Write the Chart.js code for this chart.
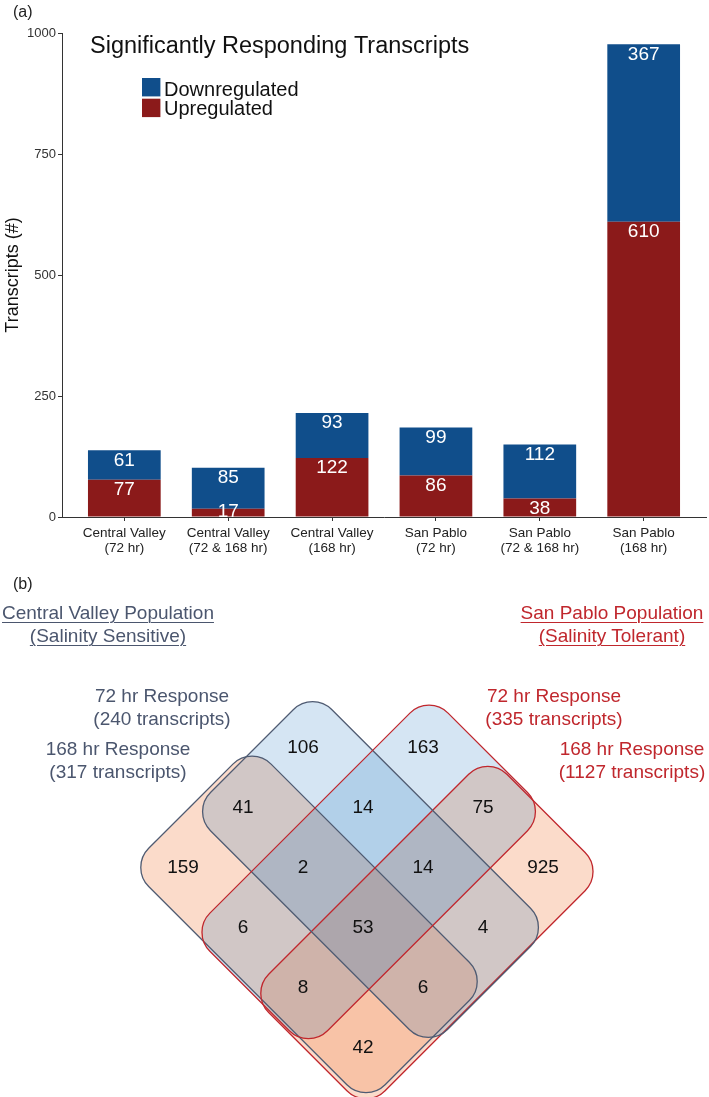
<!DOCTYPE html>
<html>
<head>
<meta charset="utf-8">
<script src="https://cdn.jsdelivr.net/npm/chart.js@4.4.1/dist/chart.umd.min.js"></script>
<style>
body{margin:0;background:#fff;font-family:"Liberation Sans",Arial,sans-serif;}
#wrap{position:relative;width:709px;height:1097px;overflow:hidden;}
#bars{position:absolute;left:0;top:0;}
#venn{position:absolute;left:0;top:560px;}
.t{position:absolute;white-space:nowrap;text-align:center;font-size:19px;line-height:23px;width:300px;}
.panel{position:absolute;left:13px;font-size:16px;line-height:16px;color:#222;}
.cv{color:#4b566e;}
.sp{color:#c0272d;}
.u{text-decoration:underline;text-underline-offset:3px;text-decoration-thickness:1px;}
</style>
</head>
<body>
<div id="wrap">
<canvas id="bars" width="709" height="560"></canvas>
<canvas id="venn" width="709" height="537"></canvas>

<div class="panel" style="top:4px">(a)</div>
<div class="panel" style="top:576px">(b)</div>

<div class="t cv" style="left:-42px;top:601px"><span class="u">Central Valley Population</span><br><span class="u">(Salinity Sensitive)</span></div>
<div class="t sp" style="left:462px;top:601px"><span class="u">San Pablo Population</span><br><span class="u">(Salinity Tolerant)</span></div>

<div class="t cv" style="left:12px;top:684px">72 hr Response<br>(240 transcripts)</div>
<div class="t sp" style="left:404px;top:684px">72 hr Response<br>(335 transcripts)</div>
<div class="t cv" style="left:-32px;top:737px">168 hr Response<br>(317 transcripts)</div>
<div class="t sp" style="left:482px;top:737px">168 hr Response<br>(1127 transcripts)</div>
</div>

<script>
/* DATA */

const categories = [
["Central Valley","(72 hr)"],
["Central Valley","(72 & 168 hr)"],
["Central Valley","(168 hr)"],
["San Pablo","(72 hr)"],
["San Pablo","(72 & 168 hr)"],
["San Pablo","(168 hr)"]
];
const upregulated = [77,17,122,86,38,610];
const downregulated = [61,85,93,99,112,367];
const yTicks = [0,250,500,750,1000];

// A = CV 72 hr, B = CV 168 hr, C = SP 72 hr, D = SP 168 hr
const vennRegions = ["A","C","AB","AC","CD","B","ABC","ACD","D","BC","ABCD","AD","BCD","ABD","BD"];
const vennCounts  = [106,163,41,14,75,159,2,14,925,6,53,4,8,6,42];


/* STYLE / LAYOUT */

const FONT = "'Liberation Sans', Arial, sans-serif";
const blue = "#104E8B", red = "#8B1A1A";

// set extents on the rotated grid (i runs down-right, j runs down-left)
// listed in paint order: the 168 hr sets first, the 72 hr sets over them
const vennShapes = {
B:{i:[-2.45,1.49], j:[-0.6,1.44], fill:"rgba(244,152,102,0.35)", stroke:"#4f5b72"},
D:{i:[-0.4,1.54], j:[-2.48,1.49], fill:"rgba(244,152,102,0.35)", stroke:"#c0272d"},
A:{i:[-2.4,1.55], j:[-1.56,0.46], fill:"rgba(3,100,185,0.17)", stroke:"#4f5b72"},
C:{i:[-1.4,0.56], j:[-2.5,1.47], fill:"rgba(3,100,185,0.17)", stroke:"#c0272d"}
};


/* BAR CHART */

const barLabels = {
id:"barLabels",
afterDatasetsDraw(chart){
const ctx = chart.ctx;
ctx.save();
ctx.fillStyle="#fff";
ctx.font="19px "+FONT;
ctx.textAlign="center";
ctx.textBaseline="alphabetic";
chart.data.datasets.forEach((ds,di)=>{
chart.getDatasetMeta(di).data.forEach((bar,i)=>{
let top = Math.min(bar.y,bar.base);
let bottom = Math.max(bar.y,bar.base);
let y = Math.min(top+15.5,bottom);
ctx.fillText(String(ds.data[i].y),bar.x,y);
});
});
ctx.restore();
}
};

const header = {
id:"header",
afterDraw(chart){
const ctx = chart.ctx;
ctx.save();
ctx.fillStyle="#111";
ctx.textAlign="left";
ctx.textBaseline="alphabetic";
ctx.font="23.5px "+FONT;
ctx.fillText("Significantly Responding Transcripts",90,53);
// legend, top item is the top of the stack
const items = chart.data.datasets.slice().reverse();
ctx.font="20px "+FONT;
items.forEach((ds,k)=>{
ctx.fillStyle=ds.backgroundColor;
ctx.fillRect(142,78+k*20.7,18.4,18.4);
ctx.fillStyle="#111";
ctx.fillText(ds.label,164,95.5+k*19.7);
});
ctx.restore();
}
};

new Chart(document.getElementById("bars"),{
type:"bar",
data:{
datasets:[
{label:"Upregulated",data:upregulated.map((v,i)=>({x:i+1,y:v})),backgroundColor:red,barPercentage:0.7,categoryPercentage:1},
{label:"Downregulated",data:downregulated.map((v,i)=>({x:i+1,y:v})),backgroundColor:blue,barPercentage:0.7,categoryPercentage:1}
]
},
options:{
responsive:false,
animation:false,
layout:{padding:{top:33,right:3,left:0,bottom:0}},
plugins:{legend:{display:false},tooltip:{enabled:false}},
scales:{
x:{
type:"linear",min:0.4,max:6.6,stacked:true,offset:false,
afterBuildTicks:s=>{s.ticks=categories.map((c,i)=>({value:i+1}));},
afterFit:s=>{s.height=43;},
ticks:{callback:v=>categories[v-1],color:"#222",font:{size:13.5,family:FONT,lineHeight:1.12},padding:5,maxRotation:0,autoSkip:false},
grid:{display:true,offset:false,drawOnChartArea:false,drawTicks:true,tickLength:4,color:"#333"},
border:{display:true,color:"#333",width:1}
},
y:{
min:0,max:1000,stacked:true,
afterBuildTicks:s=>{s.ticks=yTicks.map(v=>({value:v}));},
afterFit:s=>{s.width=62;},
ticks:{callback:v=>String(v),color:"#333",font:{size:13,family:FONT},padding:2},
grid:{display:true,drawOnChartArea:false,drawTicks:true,tickLength:4,color:"#333"},
border:{display:true,color:"#333",width:1},
title:{display:true,text:"Transcripts (#)",color:"#111",font:{size:18,family:FONT},padding:{top:2,bottom:0}}
}
}
},
plugins:[barLabels,header]
});


/* VENN DIAGRAM */

function gridIndex(r){
// position on the rotated grid from set membership
let A=r.includes("A"),B=r.includes("B"),C=r.includes("C"),D=r.includes("D");
let j = A&&B?0:A?-1:B?1:-2;
let i = C&&D?0:C?-1:D?1:-2;
return {i,j};
}

function roundedPoly(ctx,pts,r){
const n=pts.length;
const mid=(a,b)=>[(a[0]+b[0])/2,(a[1]+b[1])/2];
const m0=mid(pts[n-1],pts[0]);
ctx.beginPath();
ctx.moveTo(m0[0],m0[1]);
for(let k=0;k<n;k++){
const p=pts[k],q=pts[(k+1)%n],m=mid(p,q);
ctx.arcTo(p[0],p[1],m[0],m[1],r);
}
ctx.closePath();
}

const vennDraw = {
id:"vennDraw",
beforeDatasetsDraw(chart){
const ctx=chart.ctx, sx=chart.scales.x, sy=chart.scales.y;
const px=(i,j)=>[sx.getPixelForValue(i-j),sy.getPixelForValue(i+j)];
const keys=Object.keys(vennShapes);
ctx.save();
keys.forEach(k=>{
const s=vennShapes[k];
roundedPoly(ctx,[px(s.i[0],s.j[0]),px(s.i[1],s.j[0]),px(s.i[1],s.j[1]),px(s.i[0],s.j[1])],27);
ctx.fillStyle=s.fill;
ctx.fill();
});
ctx.lineWidth=1.3;
keys.forEach(k=>{
const s=vennShapes[k];
roundedPoly(ctx,[px(s.i[0],s.j[0]),px(s.i[1],s.j[0]),px(s.i[1],s.j[1]),px(s.i[0],s.j[1])],27);
ctx.strokeStyle=s.stroke;
ctx.stroke();
});
ctx.restore();
},
afterDatasetsDraw(chart){
const ctx=chart.ctx;
ctx.save();
ctx.fillStyle="#111";
ctx.font="19px "+FONT;
ctx.textAlign="center";
ctx.textBaseline="middle";
chart.getDatasetMeta(0).data.forEach((pt,k)=>{
ctx.fillText(String(vennCounts[k]),pt.x,pt.y);
});
ctx.restore();
}
};

new Chart(document.getElementById("venn"),{
type:"scatter",
data:{
datasets:[{
data:vennRegions.map(r=>{let g=gridIndex(r);return {x:g.i-g.j,y:g.i+g.j};}),
pointRadius:0
}]
},
options:{
responsive:false,
animation:false,
layout:{padding:0},
plugins:{legend:{display:false},tooltip:{enabled:false}},
scales:{
x:{type:"linear",display:false,min:-363/60,max:(709-363)/60},
y:{type:"linear",display:false,reverse:true,min:-368/60,max:(537-368)/60}
}
},
plugins:[vennDraw]
});
</script>
</body>
</html>
